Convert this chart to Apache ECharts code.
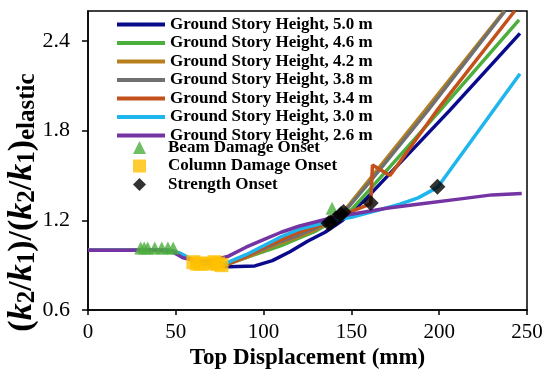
<!DOCTYPE html>
<html><head><meta charset="utf-8">
<script src="https://cdn.jsdelivr.net/npm/echarts@6/dist/echarts.min.js"></script>
<style>html,body{margin:0;padding:0;background:#fff}#c{width:550px;height:373px}</style>
</head><body><div id="c"></div>
<script>
const lineNames = ['Ground Story Height, 5.0 m','Ground Story Height, 4.6 m','Ground Story Height, 4.2 m','Ground Story Height, 3.8 m','Ground Story Height, 3.4 m','Ground Story Height, 3.0 m','Ground Story Height, 2.6 m'];
const markerNames = ['Beam Damage Onset','Column Damage Onset','Strength Onset'];
const lineColors = ['#0a0a8c','#4cae3c','#b8801c','#707070','#c4501c','#1eb6ec','#7434a4'];
const xTicks = [0,50,100,150,200,250];
const yTicks = [0.6,1.2,1.8,2.4];
const xRange = [0,250];
const yRange = [0.6,2.6];

const h50 = [[0,1.0],[45,1.0],[50,0.99],[55,0.955],[62,0.92],[70,0.90],[80,0.89],[95,0.895],[105,0.93],[115,0.99],[125,1.06],[135,1.12],[145,1.2],[158,1.34],[206,1.935],[246,2.45]];
const h46 = [[0,1.0],[45,1.0],[52,0.98],[60,0.93],[70,0.905],[78,0.9],[90,0.95],[100,0.99],[110,1.03],[120,1.08],[130,1.13],[140,1.2],[150,1.27],[160,1.40],[200.5,1.935],[245.5,2.54]];
const h42 = [[0,1.0],[45,1.0],[52,0.98],[60,0.93],[70,0.905],[78,0.9],[90,0.95],[100,1.0],[110,1.05],[120,1.09],[130,1.14],[138,1.19],[145,1.25],[156,1.41],[192,1.935],[237,2.6]];
const h38 = [[0,1.0],[45,1.0],[52,0.98],[60,0.93],[70,0.905],[78,0.9],[90,0.96],[100,1.01],[110,1.06],[120,1.10],[130,1.15],[140,1.21],[147,1.27],[160,1.45],[193.6,1.935],[237.5,2.6]];
const h34 = [[0,1.0],[45,1.0],[52,0.98],[60,0.93],[70,0.905],[78,0.9],[90,0.96],[100,1.02],[110,1.07],[120,1.12],[130,1.16],[140,1.2],[150,1.26],[161,1.31],[162,1.57],[172,1.50],[198.7,1.935],[243,2.6]];
const h30 = [[0,1.0],[45,1.0],[52,0.98],[60,0.935],[70,0.91],[78,0.91],[90,0.97],[100,1.03],[110,1.09],[120,1.14],[130,1.17],[140,1.2],[150,1.22],[166,1.27],[178,1.31],[188,1.35],[199,1.42],[246,2.18]];
const h26 = [[0,1.0],[40,1.0],[48,0.99],[54,0.95],[62,0.93],[70,0.93],[80,0.96],[90,1.02],[100,1.07],[110,1.12],[120,1.16],[130,1.19],[140,1.22],[155,1.25],[170,1.28],[190,1.31],[210,1.34],[230,1.37],[247,1.38]];
const beamOnset = [[30,1.015],[32,1.015],[34,1.015],[38,1.015],[42,1.015],[45.5,1.015],[48.5,1.015],[139,1.28]];
const columnOnset = [[60,0.92],[62,0.91],[64,0.91],[70,0.91],[72,0.92],[74,0.91],[76,0.90]];
const strengthOnset = [[138,1.185],[141,1.21],[144,1.24],[145.5,1.255],[161,1.315],[199,1.425],[137,1.18]];

const lineData = [h50,h46,h42,h38,h34,h30,h26];
const FF = '"Liberation Serif","Times New Roman",serif';

const series = lineData.map((d,i)=>({
  name: lineNames[i], type:'line', data:d, symbol:'none', smooth:false,
  lineStyle:{color:lineColors[i], width:3.5}, itemStyle:{color:lineColors[i]}, z:2
}));
// plot frame as a mark area spanning the full axis ranges
series[0].clip = false;
series[0].markArea = {silent:true, z:1,
  itemStyle:{color:'rgba(0,0,0,0)', borderColor:'#000', borderWidth:1.5, borderType:'solid'},
  label:{show:false},
  data:[[{coord:[xRange[0], yRange[0]]},{coord:[xRange[1], yRange[1]]}]]};
series.push({name:markerNames[0], type:'scatter', data:beamOnset, symbol:'triangle', symbolSize:13, itemStyle:{color:'#4cae3c'}, z:3});
series.push({name:markerNames[1], type:'scatter', data:columnOnset, symbol:'rect', symbolSize:14, itemStyle:{color:'#ffc000'}, z:4});
series.push({name:markerNames[2], type:'scatter', data:strengthOnset, symbol:'diamond', symbolSize:16, itemStyle:{color:'#000'}, z:5});

const chart = echarts.init(document.getElementById('c'), null, {renderer:'canvas'});
chart.setOption({
  animation:false,
  backgroundColor:'#fff',
  grid:{left:88, right:23, top:11, bottom:63, containLabel:false, outerBoundsMode:'none'},
  legend:[
    {data:lineNames, orient:'vertical', left:115, top:16, padding:0, itemWidth:48, itemHeight:4, itemGap:1.5,
     lineStyle:{width:4}, textStyle:{fontFamily:FF, fontWeight:'bold', fontSize:17, lineHeight:16, color:'#000'}},
    {data:markerNames, orient:'vertical', left:133, top:139, padding:0, itemWidth:13, itemHeight:13, itemGap:1.5,
     textStyle:{fontFamily:FF, fontWeight:'bold', fontSize:17, lineHeight:16, color:'#000', padding:[0,0,0,17]}}
  ],
  xAxis:{type:'value', min:xRange[0], max:xRange[1], interval:50,
    axisLine:{show:true, onZero:false, lineStyle:{color:'#000', width:1.5}},
    axisTick:{show:true, inside:false, length:5, lineStyle:{color:'#000', width:1.5}, customValues:xTicks},
    axisLabel:{color:'#000', fontFamily:FF, fontSize:21, margin:12, customValues:xTicks},
    splitLine:{show:false},
    name:'Top Displacement (mm)', nameLocation:'middle', nameGap:37, nameMoveOverlap:false,
    nameTextStyle:{fontFamily:FF, fontWeight:'bold', fontSize:23, color:'#000'}},
  yAxis:{type:'value', min:yRange[0], max:yRange[1], interval:0.6,
    axisLine:{show:true, onZero:false, lineStyle:{color:'#000', width:1.5}},
    axisTick:{show:true, inside:false, length:6, lineStyle:{color:'#000', width:1.5}, customValues:yTicks},
    axisLabel:{color:'#000', fontFamily:FF, fontSize:22, margin:18, customValues:yTicks, formatter:v=>v.toFixed(1)},
    splitLine:{show:false},
    name:'{p|(}{k|k}{s|2}{p|/}{k|k}{s|1}{p|)/(}{k|k}{s|2}{p|/}{k|k}{s|1}{p|)}{s|elastic}',
    nameLocation:'middle', nameRotate:90, nameGap:48, nameMoveOverlap:false,
    nameTextStyle:{fontFamily:FF, fontWeight:'bold', fontSize:34, color:'#000', padding:[0,84,0,0],
      rich:{
        p:{fontFamily:FF, fontWeight:'bold', fontSize:34, lineHeight:36, verticalAlign:'middle', color:'#000'},
        k:{fontFamily:FF, fontWeight:'bold', fontStyle:'italic', fontSize:34, lineHeight:36, verticalAlign:'middle', color:'#000'},
        s:{fontFamily:FF, fontWeight:'bold', fontSize:25, lineHeight:17, verticalAlign:'bottom', color:'#000'}
      }}},
  series:series
});
</script></body></html>
